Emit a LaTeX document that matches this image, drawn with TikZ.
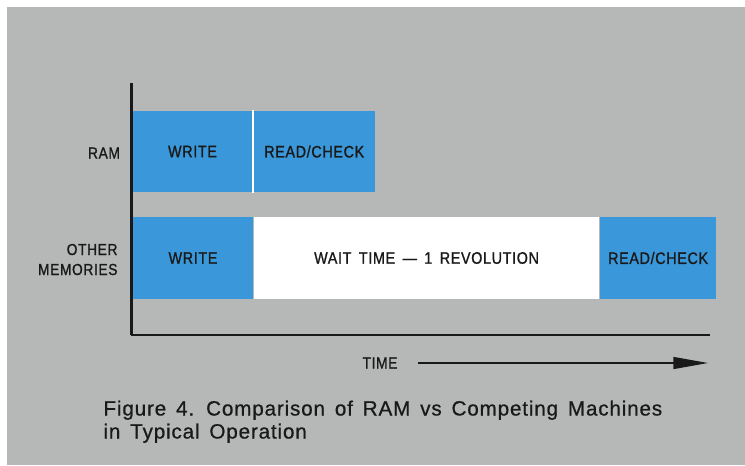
\documentclass[tikz,border=0pt]{standalone}
\usepackage{fontspec}
\setmainfont{Liberation Sans}
\newfontfamily\labfont[FakeStretch=0.86,LetterSpace=4,WordSpace=1.6,FakeBold=1.1]{Liberation Sans}
\newfontfamily\capfont[LetterSpace=4,WordSpace=1.5,FakeBold=0.7]{Liberation Sans}
\usetikzlibrary{positioning,arrows.meta}

\definecolor{ramblue}{RGB}{58,152,218}
\definecolor{paper}{RGB}{182,184,184}
\definecolor{ink}{RGB}{25,25,25}

\begin{document}
\begin{tikzpicture}[x=0.75pt,y=-0.75pt,>={Triangle[length=26pt,width=9pt]},thick,
    blk/.style={fill=ramblue,inner sep=0pt,minimum height=61pt,text=ink,font=\labfont\fontsize{12.5}{14}\selectfont},
    lab/.style={font=\labfont\fontsize{12}{15}\selectfont,text=ink,inner sep=0pt}]

            % background
            \fill[white] (0,0) rectangle (745,465);
            \fill[paper] (7,7) rectangle (745,465);

            % RAM row
            \node[blk, minimum width=90pt] (ramw) at (192.5,151.5) {WRITE};
            \node[blk, minimum width=91pt, right=0pt of ramw] (ramr) {READ/CHECK};
            \draw[white, line width=1.8pt] (ramw.north east) to (ramw.south east);

            % other memories row
            \node[blk, minimum width=90pt, minimum height=61.5pt] (ow) at (193,258) {WRITE};
            \node[blk, fill=white, minimum width=258.75pt, minimum height=61.5pt, right=0pt of ow] (owait) {WAIT TIME — 1 REVOLUTION};
            \node[blk, minimum width=87pt, minimum height=61.5pt, right=0pt of owait] (orc) {READ/CHECK};

            % row labels
            \node[lab] (ram) at (104,153) {RAM};
            \node[lab, align=right, anchor=east] (other) at (118,259.5) {OTHER\\MEMORIES};

            % axes
            \coordinate (top) at (131.5,83);
            \coordinate (orig) at (131.5,335);
            \coordinate (xend) at (710,335);
            \draw[ink, line width=2pt] (top) to (orig);
            \draw[ink, line width=1.6pt] ([xshift=-0.75pt]orig) to (xend);

            % time arrow
            \node[lab] (time) at (380,363) {TIME};
            \coordinate (tstart) at (418,363);
            \coordinate (tend) at (708,363);
            \draw[ink, ->, line width=1pt] (tstart) to (tend);

            % caption
            \node[anchor=north west, align=left, inner sep=0pt, text=ink,
                  font=\capfont\fontsize{15.5}{17.25}\selectfont] (cap) at (103,400)
                  {Figure 4. Comparison of RAM vs Competing Machines\\in Typical Operation};

            ;
        \end{tikzpicture}
\end{document}
